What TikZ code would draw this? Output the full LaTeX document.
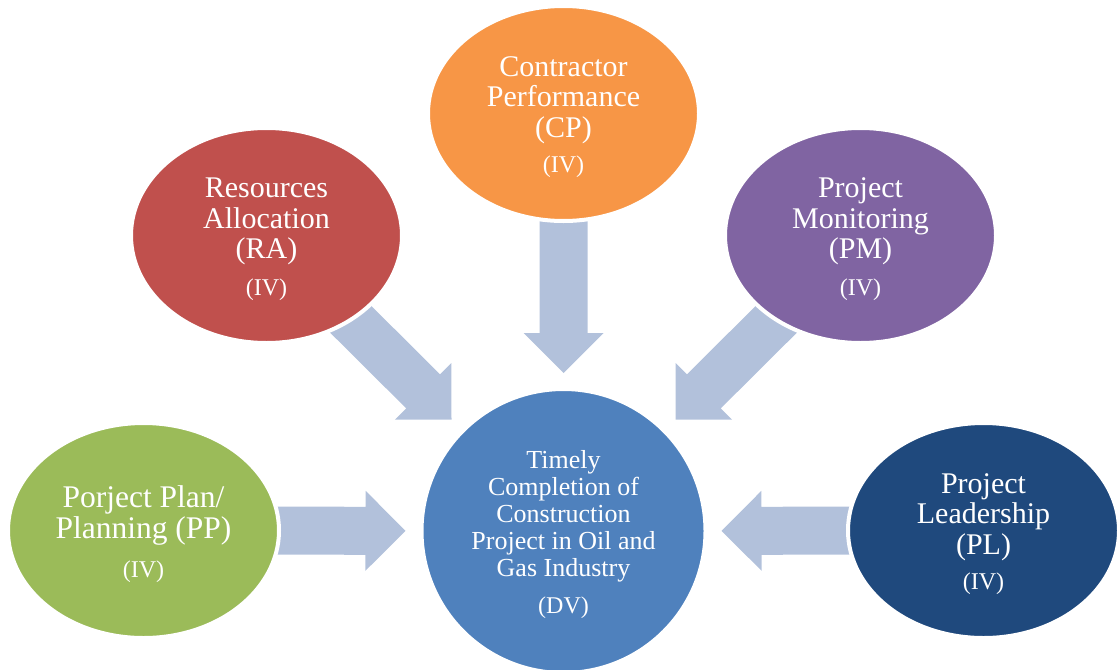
\documentclass[tikz,border=0pt]{standalone}
\usepackage{fontspec}
\setmainfont{Liberation Serif}
\usetikzlibrary{shapes.geometric,calc}

\definecolor{cBlue}{HTML}{4F81BD}
\definecolor{cGreen}{HTML}{9BBB59}
\definecolor{cRed}{HTML}{C0504D}
\definecolor{cOrange}{HTML}{F79646}
\definecolor{cPurple}{HTML}{8064A2}
\definecolor{cNavy}{HTML}{1F497D}
\definecolor{cArrow}{HTML}{B2C1DB}

\pgfdeclarelayer{background}
\pgfsetlayers{background,main}

% block arrow from a factor bubble towards the central outcome
\newcommand\blockarrow[2]{%
  \coordinate (#1-tail) at ($(#2.center)!320pt!(#1.center)$);
  \coordinate (#1-tip)  at ($(#2.center)!158pt!(#1.center)$);
  \coordinate (#1-base) at ($(#1-tip)!40pt!(#1-tail)$);
  \fill[arrowfill]
    ($(#1-tail)!24pt!90:(#1-tip)$) -- ($(#1-base)!24pt!90:(#1-tip)$) --
    ($(#1-base)!40pt!90:(#1-tip)$) -- (#1-tip) --
    ($(#1-base)!40pt!-90:(#1-tip)$) -- ($(#1-base)!24pt!-90:(#1-tip)$) --
    ($(#1-tail)!24pt!-90:(#1-tip)$) -- cycle;
}

\tikzset{
  bubble/.style={ellipse, draw=white, line width=4pt, inner sep=0pt,
    minimum width=271pt, minimum height=215pt, text=white, align=center,
    font=\fontsize{30}{30.5}\selectfont},
  core/.style={circle, draw=white, line width=4pt, inner sep=0pt,
    minimum size=284pt, fill=cBlue, text=white, align=center,
    font=\fontsize{26}{27}\selectfont},
  arrowfill/.style={fill=cArrow},
}
\newcommand\tag[1]{{\fontsize{24}{24}\selectfont #1}}
% invisible strut that sets the height of a first text line
\newcommand\toprule[1]{\rule{0pt}{#1pt}}

\begin{document}
\begin{tikzpicture}[x=1pt,y=-1pt]
  \useasboundingbox (0,0) rectangle (1118,669);

  \node[core] (dv) at (563.5,531)
    {\toprule{24.8}Timely\\Completion of\\Construction\\Project in Oil and\\Gas Industry\\[10pt]\tag{(DV)}};

  \node[bubble, fill=cOrange] (cp) at (563.5,113.5)
    {\toprule{27.3}Contractor\\Performance\\(CP)\\[5pt]\tag{(IV)}};
  \node[bubble, fill=cRed] (ra) at (266.5,235.5)
    {\toprule{27}Resources\\Allocation\\(RA)\\[6pt]\tag{(IV)}};
  \node[bubble, fill=cPurple] (pm) at (860.5,235.5)
    {\toprule{27}Project\\Monitoring\\(PM)\\[6pt]\tag{(IV)}};
  \node[bubble, fill=cGreen, font=\fontsize{31.5}{31}\selectfont] (pp) at (143.5,530.5)
    {\toprule{28.5}Porject Plan/\\Planning (PP)\\[8pt]\tag{(IV)}};
  \node[bubble, fill=cNavy] (pl) at (983.5,530.5)
    {\toprule{27}Project\\Leadership\\(PL)\\[5pt]\tag{(IV)}};

  \begin{pgfonlayer}{background}
    \blockarrow{cp}{dv}
    \blockarrow{ra}{dv}
    \blockarrow{pm}{dv}
    \blockarrow{pp}{dv}
    \blockarrow{pl}{dv}
  \end{pgfonlayer}
\end{tikzpicture}
\end{document}
